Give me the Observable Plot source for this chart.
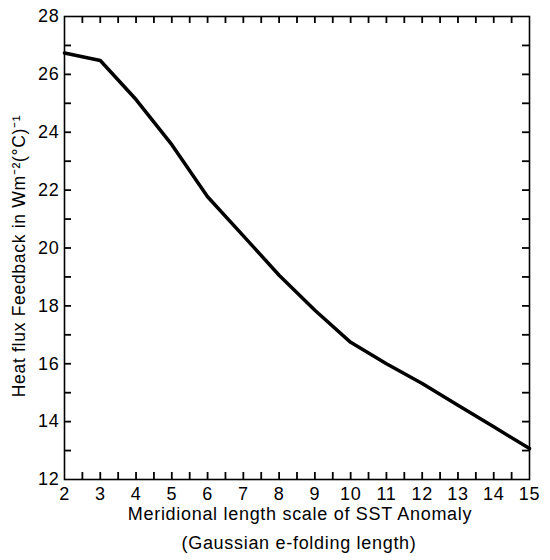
<!DOCTYPE html>
<html>
<head>
<meta charset="utf-8">
<script src="https://cdn.jsdelivr.net/npm/d3@7"></script>
<script src="https://cdn.jsdelivr.net/npm/@observablehq/plot@0.6"></script>
<style>
  html, body { margin: 0; padding: 0; background: #fff; }
  svg { display: block; }
  svg text { letter-spacing: 0.7px; }
</style>
</head>
<body>
<div id="chart"></div>
<script>
const lengthScale = [2, 3, 4, 5, 6, 7, 8, 9, 10, 11, 12, 13, 14, 15];
const feedback = [26.74, 26.48, 25.13, 23.57, 21.77, 20.42, 19.06, 17.85, 16.74, 16.0, 15.32, 14.57, 13.82, 13.07];
const xMajorTicks = [2, 3, 4, 5, 6, 7, 8, 9, 10, 11, 12, 13, 14, 15];
const xMinorTicks = [2.5, 3, 3.5, 4, 4.5, 5, 5.5, 6, 6.5, 7, 7.5, 8, 8.5, 9, 9.5, 10, 10.5, 11, 11.5, 12, 12.5, 13, 13.5, 14, 14.5];
const yMajorTicks = [12, 14, 16, 18, 20, 22, 24, 26, 28];
const yMinorTicks = [13, 14, 15, 16, 17, 18, 19, 20, 21, 22, 23, 24, 25, 26, 27];
const xTitle1 = "Meridional length scale of SST Anomaly";
const xTitle2 = "(Gaussian e-folding length)";
const yTitle = "Heat flux Feedback in Wm\u207B\u00B2(\u00B0C)\u207B\u00B9";

const data = lengthScale.map((x, i) => ({x, y: feedback[i]}));
const font = "'Liberation Sans', Arial, Helvetica, sans-serif";

const W = 550, H = 560, ML = 64, MR = 21, MT = 16, MB = 81;
const xDomain = [2, 15], yDomain = [12, 28];
const frameW = W - ML - MR, frameH = H - MT - MB, tickLen = 7;
// tick length expressed in data units of each scale
const tx = tickLen * (xDomain[1] - xDomain[0]) / frameW;
const ty = tickLen * (yDomain[1] - yDomain[0]) / frameH;

const chart = Plot.plot({
  width: W,
  height: H,
  marginLeft: ML,
  marginRight: MR,
  marginTop: MT,
  marginBottom: MB,
  style: {fontFamily: font, fontSize: "18px", color: "#000", background: "#fff"},
  x: {domain: xDomain},
  y: {domain: yDomain},
  marks: [
    // inward ticks on all four sides
    Plot.ruleX(xMinorTicks, {x: d => d, y1: yDomain[0], y2: yDomain[0] + ty, stroke: "#000", strokeWidth: 1.8}),
    Plot.ruleX(xMinorTicks, {x: d => d, y1: yDomain[1] - ty, y2: yDomain[1], stroke: "#000", strokeWidth: 1.8}),
    Plot.ruleY(yMinorTicks, {y: d => d, x1: xDomain[0], x2: xDomain[0] + tx, stroke: "#000", strokeWidth: 1.8}),
    Plot.ruleY(yMinorTicks, {y: d => d, x1: xDomain[1] - tx, x2: xDomain[1], stroke: "#000", strokeWidth: 1.8}),
    // tick labels
    Plot.axisX({anchor: "bottom", ticks: xMajorTicks, tickSize: 0, tickPadding: 8, label: null, fontSize: 18}),
    Plot.axisY({anchor: "left", ticks: yMajorTicks, tickSize: 0, tickPadding: 5, label: null, fontSize: 18}),
    Plot.frame({stroke: "#000", strokeWidth: 1.6}),
    Plot.line(data, {x: "x", y: "y", stroke: "#000", strokeWidth: 3.5, strokeLinejoin: "round"}),
    Plot.text([xTitle1], {frameAnchor: "bottom", dy: 40, dx: 3, fontSize: 18, fill: "#000", style: "letter-spacing:1px"}),
    Plot.text([xTitle2], {frameAnchor: "bottom", dy: 69, dx: 2, fontSize: 18, fill: "#000"}),
    Plot.text([yTitle], {frameAnchor: "left", textAnchor: "middle", rotate: -90, dx: -45, dy: 8, fontSize: 17.5, fill: "#000"})
  ]
});
document.getElementById("chart").appendChild(chart);
</script>
</body>
</html>
